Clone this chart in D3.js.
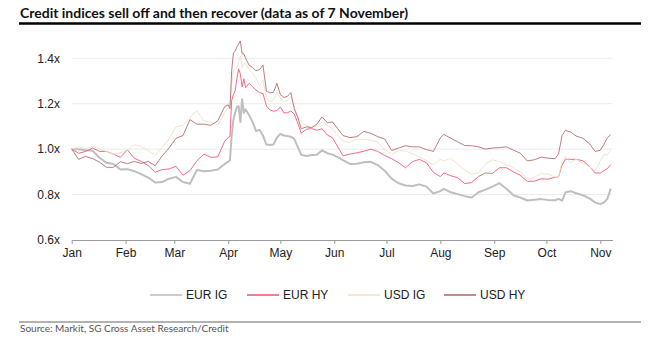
<!DOCTYPE html>
<html>
<head>
<meta charset="utf-8">
<script src="https://cdn.jsdelivr.net/npm/d3@7"></script>
<style>
  body { margin: 0; background: #fff; }
  svg { display: block; }
</style>
</head>
<body>
<div id="chart"></div>
<script>
// rebased credit index levels (1.0x = 1 January)
const dates = [
  "2025-01-01","2025-01-05","2025-01-09","2025-01-13","2025-01-17","2025-01-21","2025-01-25","2025-01-29",
  "2025-02-02","2025-02-06","2025-02-10","2025-02-14","2025-02-18","2025-02-22","2025-02-26",
  "2025-03-02","2025-03-06","2025-03-10","2025-03-14","2025-03-18","2025-03-22","2025-03-26","2025-03-30",
  "2025-04-01","2025-04-02","2025-04-03","2025-04-04","2025-04-05","2025-04-06","2025-04-07","2025-04-08",
  "2025-04-09","2025-04-10","2025-04-11","2025-04-13","2025-04-15","2025-04-17","2025-04-19","2025-04-21",
  "2025-04-23","2025-04-25","2025-04-27","2025-04-29",
  "2025-05-01","2025-05-03","2025-05-05","2025-05-07","2025-05-09","2025-05-11","2025-05-13","2025-05-16",
  "2025-05-19","2025-05-22","2025-05-25","2025-05-28","2025-05-31",
  "2025-06-03","2025-06-06","2025-06-10","2025-06-14","2025-06-18","2025-06-22","2025-06-26","2025-06-30",
  "2025-07-04","2025-07-08","2025-07-12","2025-07-16","2025-07-20","2025-07-24","2025-07-28",
  "2025-08-01","2025-08-03","2025-08-07","2025-08-11","2025-08-15","2025-08-19","2025-08-23","2025-08-27","2025-08-31",
  "2025-09-04","2025-09-08","2025-09-12","2025-09-16","2025-09-20","2025-09-24","2025-09-28",
  "2025-10-02","2025-10-06","2025-10-08","2025-10-10","2025-10-12","2025-10-15","2025-10-18","2025-10-22",
  "2025-10-26","2025-10-29",
  "2025-11-01","2025-11-03","2025-11-05","2025-11-07"
];

const eurIg = [
  1.00,1.00,0.995,0.993,0.962,0.94,0.935,0.91,
  0.912,0.903,0.89,0.875,0.853,0.855,0.87,
  0.878,0.855,0.848,0.908,0.903,0.905,0.91,0.935,
  0.945,0.95,1.06,1.13,1.16,1.185,1.19,1.12,
  1.22,1.16,1.175,1.15,1.12,1.08,1.085,1.06,
  1.02,1.018,1.02,1.05,
  1.067,1.06,1.058,1.055,1.045,1.01,0.975,0.97,
  0.974,0.975,0.995,0.982,0.976,
  0.965,0.952,0.935,0.936,0.942,0.944,0.93,0.905,
  0.87,0.85,0.84,0.838,0.845,0.835,0.805,
  0.815,0.825,0.81,0.802,0.793,0.787,0.81,0.822,0.835,
  0.85,0.826,0.797,0.787,0.774,0.777,0.78,
  0.776,0.775,0.781,0.773,0.81,0.815,0.806,0.797,
  0.782,0.765,
  0.758,0.765,0.78,0.826
];

const eurHy = [
  1.00,0.982,0.99,1.005,0.99,0.99,0.978,0.964,
  0.997,0.96,0.946,0.928,0.898,0.91,0.913,
  0.925,0.885,0.905,0.949,0.978,0.964,0.966,1.035,
  1.052,1.055,1.215,1.24,1.257,1.31,1.353,1.33,
  1.275,1.31,1.27,1.29,1.275,1.26,1.249,1.245,
  1.19,1.173,1.167,1.17,
  1.186,1.16,1.16,1.168,1.155,1.115,1.07,1.088,
  1.09,1.083,1.09,1.062,1.05,
  1.01,0.971,0.978,0.984,0.991,1.00,0.99,0.972,
  0.958,0.94,0.918,0.945,0.955,0.94,0.898,
  0.879,0.895,0.883,0.874,0.848,0.853,0.88,0.895,0.893,
  0.918,0.918,0.90,0.885,0.858,0.859,0.869,
  0.868,0.876,0.879,0.93,0.956,0.955,0.955,0.949,
  0.922,0.895,
  0.895,0.905,0.914,0.932
];

const usdIg = [
  1.00,1.01,1.003,1.013,1.00,0.99,0.977,0.985,
  0.997,1.018,1.012,0.993,0.972,1.008,1.045,
  1.098,1.105,1.14,1.17,1.125,1.118,1.105,1.16,
  1.178,1.19,1.28,1.345,1.355,1.36,1.385,1.41,
  1.36,1.375,1.378,1.35,1.335,1.31,1.28,1.305,
  1.228,1.208,1.217,1.25,
  1.225,1.208,1.215,1.232,1.185,1.145,1.12,1.104,
  1.095,1.103,1.12,1.103,1.09,
  1.06,1.035,1.029,1.044,1.042,1.04,1.03,1.00,
  0.976,0.993,0.992,0.98,0.966,0.95,0.931,
  0.956,0.948,0.96,0.933,0.907,0.891,0.896,0.935,0.953,
  0.945,0.931,0.92,0.897,0.868,0.876,0.892,
  0.89,0.877,0.88,0.948,0.967,0.94,0.955,0.938,
  0.921,0.905,
  0.948,0.975,0.975,0.995
];

const usdHy = [
  1.00,0.955,0.968,0.958,0.943,0.92,0.92,0.945,
  0.936,0.946,0.937,0.946,0.927,0.97,1.005,
  1.048,1.06,1.13,1.11,1.11,1.105,1.125,1.188,
  1.195,1.178,1.345,1.424,1.432,1.45,1.463,1.476,
  1.42,1.42,1.40,1.37,1.36,1.345,1.35,1.37,
  1.255,1.248,1.25,1.29,
  1.24,1.228,1.232,1.249,1.178,1.14,1.09,1.098,
  1.095,1.11,1.142,1.117,1.12,
  1.09,1.06,1.051,1.055,1.078,1.07,1.055,1.045,
  0.994,1.005,1.015,1.01,1.01,0.998,0.99,
  1.05,1.065,1.048,1.032,1.016,1.015,1.01,1.00,1.005,
  1.007,1.01,0.996,0.982,0.948,0.953,0.965,
  0.96,0.958,0.98,1.06,1.083,1.075,1.058,1.048,
  1.022,0.99,
  0.995,1.02,1.05,1.064
];

const seriesNames = ["EUR IG", "EUR HY", "USD IG", "USD HY"];
const seriesColors = ["#c0bebe", "#f05a76", "#eee2c6", "#b46e72"];
const seriesWidths = [2, 0.9, 0.9, 0.9];
const yTicks = [0.6, 0.8, 1.0, 1.2, 1.4];

const titleText = "Credit indices sell off and then recover (data as of 7 November)";
const sourceText = "Source: Markit, SG Cross Asset Research/Credit";

const W = 652, H = 338;
const svg = d3.select("#chart").append("svg")
  .attr("width", W)
  .attr("height", H);

svg.append("rect").attr("width", W).attr("height", H).attr("fill", "#fff");

// title + rule
svg.append("text")
  .attr("x", 20)
  .attr("y", 18)
  .attr("font-family", "Lato, 'Noto Sans', sans-serif")
  .attr("font-weight", 700)
  .attr("font-size", 14)
  .attr("fill", "#111")
  .attr("textLength", 388)
  .attr("lengthAdjust", "spacingAndGlyphs")
  .text(titleText);

svg.append("line")
  .attr("x1", 19).attr("x2", 641)
  .attr("y1", 23.5).attr("y2", 23.5)
  .attr("stroke", "#000")
  .attr("stroke-width", 2.5);

const parse = d3.timeParse("%Y-%m-%d");
const days = dates.map(parse);

const x = d3.scaleTime()
  .domain([parse("2025-01-01"), parse("2025-11-08")])
  .range([71.7, 612.5]);

const y = d3.scaleLinear()
  .domain([0.6, 1.4])
  .range([240, 58.3]);

// horizontal grid
svg.append("g")
  .selectAll("line")
  .data(yTicks.filter(d => d > 0.6))
  .join("line")
  .attr("x1", x.range()[0])
  .attr("x2", x.range()[1])
  .attr("y1", d => y(d))
  .attr("y2", d => y(d))
  .attr("stroke", "#ebebeb")
  .attr("stroke-width", 1);

// y axis labels
const yAxis = svg.append("g")
  .attr("transform", "translate(60,0)")
  .call(d3.axisLeft(y).tickValues(yTicks).tickSize(0).tickPadding(0).tickFormat(d => d3.format(".1f")(d) + "x"));
yAxis.select(".domain").remove();
yAxis.selectAll("text")
  .attr("font-family", "'Liberation Sans', Arial, sans-serif")
  .attr("font-size", 12)
  .attr("fill", "#222");

// x axis
const months = d3.timeMonth.range(parse("2025-01-01"), parse("2025-11-02"));
const xAxis = svg.append("g")
  .attr("transform", "translate(0,240)")
  .call(d3.axisBottom(x).tickValues(months).tickFormat(d3.timeFormat("%b")).tickSizeInner(4).tickSizeOuter(0).tickPadding(4));
xAxis.select(".domain").attr("stroke", "#9a9a9a");
xAxis.selectAll(".tick line").attr("stroke", "#9a9a9a");
xAxis.selectAll("text")
  .attr("font-family", "'Liberation Sans', Arial, sans-serif")
  .attr("font-size", 12)
  .attr("fill", "#222");

// series lines
const allSeries = [eurIg, eurHy, usdIg, usdHy];
const line = d3.line()
  .x((d, i) => x(days[i]))
  .y(d => y(d));

svg.append("g")
  .selectAll("path")
  .data(allSeries)
  .join("path")
  .attr("d", d => line(d))
  .attr("fill", "none")
  .attr("stroke", (d, i) => seriesColors[i])
  .attr("stroke-width", (d, i) => seriesWidths[i])
  .attr("stroke-linejoin", "round");

// legend
const legendX = [150, 247, 348, 444];
const legend = svg.append("g").attr("transform", "translate(0,295)");
const item = legend.selectAll("g")
  .data(seriesNames)
  .join("g")
  .attr("transform", (d, i) => `translate(${legendX[i]},0)`);
item.append("line")
  .attr("x1", 0).attr("x2", 32)
  .attr("stroke", (d, i) => seriesColors[i])
  .attr("stroke-width", 1.6);
item.append("text")
  .attr("x", 36)
  .attr("dy", "0.35em")
  .attr("font-family", "'Liberation Sans', Arial, sans-serif")
  .attr("font-size", 12)
  .attr("fill", "#222")
  .text(d => d);

// footer
svg.append("line")
  .attr("x1", 19).attr("x2", 641)
  .attr("y1", 322).attr("y2", 322)
  .attr("stroke", "#999")
  .attr("stroke-width", 1.5);

svg.append("text")
  .attr("x", 20)
  .attr("y", 332)
  .attr("font-family", "Lato, sans-serif")
  .attr("font-size", 10)
  .attr("fill", "#555")
  .text(sourceText);
</script>
</body>
</html>
